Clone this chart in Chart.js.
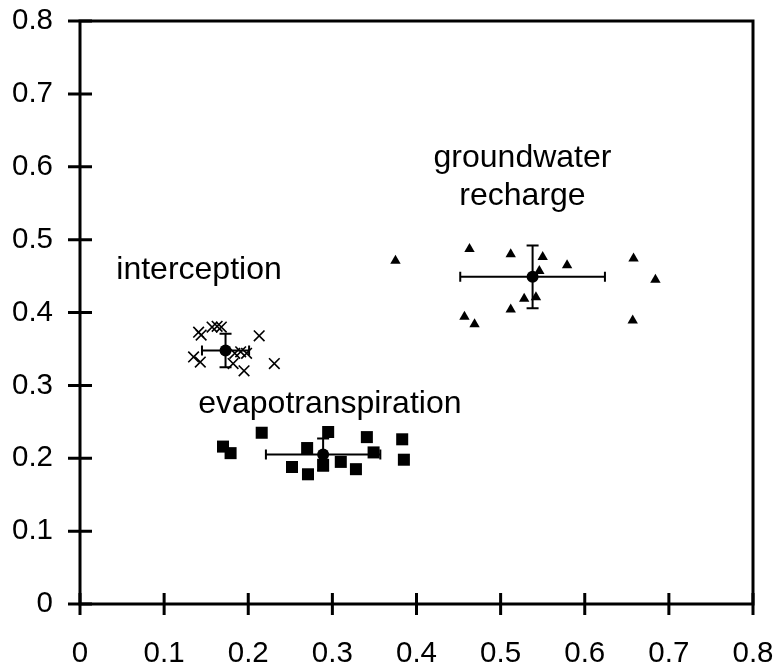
<!DOCTYPE html>
<html>
<head>
<meta charset="utf-8">
<script src="https://cdn.jsdelivr.net/npm/chart.js@4.4.1/dist/chart.umd.min.js"></script>
<style>
  html, body { margin: 0; padding: 0; background: #ffffff; }
  #wrap { width: 778px; height: 668px; }
</style>
</head>
<body>
<div id="wrap"><canvas id="c" width="778" height="668"></canvas></div>
<script>
// ---- data ----
const tickValues = [0, 0.1, 0.2, 0.3, 0.4, 0.5, 0.6, 0.7, 0.8];
const tickLabels = ['0', '0.1', '0.2', '0.3', '0.4', '0.5', '0.6', '0.7', '0.8'];

const interceptionX = [0.141, 0.144, 0.157, 0.163, 0.168, 0.135, 0.143, 0.184, 0.191, 0.198, 0.182, 0.195, 0.213, 0.231];
const interceptionY = [0.373, 0.369, 0.380, 0.381, 0.380, 0.339, 0.332, 0.344, 0.346, 0.344, 0.330, 0.320, 0.368, 0.330];

const evapoX = [0.170, 0.179, 0.216, 0.252, 0.271, 0.270, 0.295, 0.289, 0.310, 0.328, 0.341, 0.349, 0.383, 0.385];
const evapoY = [0.216, 0.207, 0.235, 0.188, 0.178, 0.214, 0.236, 0.191, 0.195, 0.185, 0.229, 0.208, 0.226, 0.198];

const rechargeX = [0.375, 0.463, 0.512, 0.550, 0.579, 0.546, 0.528, 0.542, 0.512, 0.457, 0.469, 0.658, 0.684, 0.657];
const rechargeY = [0.471, 0.487, 0.480, 0.476, 0.465, 0.457, 0.419, 0.421, 0.404, 0.394, 0.384, 0.474, 0.445, 0.389];

const groupNames = ['interception', 'evapotranspiration', 'groundwater recharge'];
const meanX = [0.173, 0.289, 0.538];
const meanY = [0.348, 0.205, 0.449];
const errX  = [0.028, 0.068, 0.086];
const errY  = [0.023, 0.022, 0.043];

// annotation text and anchors (data units)
const labelLines = [['interception'], ['evapotranspiration'], ['groundwater', 'recharge']];
const labelAtX = [0.1415, 0.297, 0.526];
const labelAtY = [0.458, 0.274, 0.612];

// ---- build ----
const toPts = (xs, ys) => xs.map((x, i) => ({ x: x, y: ys[i] }));

const FONT = '"Liberation Sans", Arial, sans-serif';

const frameAndTicks = {
  id: 'frameAndTicks',
  afterDraw(chart) {
    const ctx = chart.ctx, a = chart.chartArea;
    const xs = chart.scales.x, ys = chart.scales.y;
    ctx.save();
    ctx.strokeStyle = '#000';
    ctx.lineWidth = 3;
    ctx.lineCap = 'butt';
    ctx.strokeRect(a.left, a.top, a.right - a.left, a.bottom - a.top);
    ctx.beginPath();
    xs.ticks.forEach(t => {
      const px = xs.getPixelForValue(t.value);
      ctx.moveTo(px, a.bottom - 11); ctx.lineTo(px, a.bottom + 11);
    });
    ys.ticks.forEach(t => {
      const py = ys.getPixelForValue(t.value);
      ctx.moveTo(a.left - 12, py); ctx.lineTo(a.left + 12, py);
    });
    ctx.stroke();

    // tick labels
    ctx.fillStyle = '#000';
    ctx.font = '29.5px ' + FONT;
    ctx.textAlign = 'center';
    ctx.textBaseline = 'alphabetic';
    tickValues.forEach((v, i) => {
      ctx.fillText(tickLabels[i], xs.getPixelForValue(v), a.bottom + 58);
    });
    ctx.textAlign = 'right';
    ctx.textBaseline = 'middle';
    tickValues.forEach((v, i) => {
      ctx.fillText(tickLabels[i], a.left - 27, ys.getPixelForValue(v));
    });
    ctx.restore();
  }
};

const errorBars = {
  id: 'errorBars',
  beforeDatasetsDraw(chart) {
    const ctx = chart.ctx, xs = chart.scales.x, ys = chart.scales.y;
    ctx.save();
    ctx.strokeStyle = '#000';
    ctx.lineWidth = 2;
    const cap = 5;
    meanX.forEach((mx, i) => {
      const cx = xs.getPixelForValue(mx), cy = ys.getPixelForValue(meanY[i]);
      const x1 = xs.getPixelForValue(mx - errX[i]), x2 = xs.getPixelForValue(mx + errX[i]);
      const y1 = ys.getPixelForValue(meanY[i] + errY[i]), y2 = ys.getPixelForValue(meanY[i] - errY[i]);
      ctx.beginPath();
      ctx.moveTo(x1, cy); ctx.lineTo(x2, cy);
      ctx.moveTo(x1, cy - cap); ctx.lineTo(x1, cy + cap);
      ctx.moveTo(x2, cy - cap); ctx.lineTo(x2, cy + cap);
      ctx.moveTo(cx, y1); ctx.lineTo(cx, y2);
      ctx.moveTo(cx - cap - 1, y1); ctx.lineTo(cx + cap + 1, y1);
      ctx.moveTo(cx - cap - 1, y2); ctx.lineTo(cx + cap + 1, y2);
      ctx.stroke();
    });
    ctx.restore();
  }
};

const textLabels = {
  id: 'textLabels',
  afterDraw(chart) {
    const ctx = chart.ctx, xs = chart.scales.x, ys = chart.scales.y;
    ctx.save();
    ctx.fillStyle = '#000';
    ctx.font = '32px ' + FONT;
    ctx.textAlign = 'center';
    ctx.textBaseline = 'middle';
    labelLines.forEach((lines, i) => {
      const px = xs.getPixelForValue(labelAtX[i]);
      const py = ys.getPixelForValue(labelAtY[i]);
      lines.forEach((ln, k) => ctx.fillText(ln, px, py + k * 38));
    });
    ctx.restore();
  }
};

new Chart(document.getElementById('c'), {
  type: 'scatter',
  data: {
    datasets: [
      { label: groupNames[0], data: toPts(interceptionX, interceptionY),
        pointStyle: 'crossRot', pointRadius: 7.5, borderColor: '#000', borderWidth: 1.6, backgroundColor: '#000' },
      { label: groupNames[1], data: toPts(evapoX, evapoY),
        pointStyle: 'rect', pointRadius: 8.5, borderColor: '#000', borderWidth: 0, backgroundColor: '#000' },
      { label: groupNames[2], data: toPts(rechargeX, rechargeY),
        pointStyle: 'triangle', pointRadius: 6, borderColor: '#000', borderWidth: 0, backgroundColor: '#000' },
      { label: 'mean', data: toPts(meanX, meanY),
        pointStyle: 'circle', pointRadius: 6, borderColor: '#000', borderWidth: 0, backgroundColor: '#000' }
    ]
  },
  options: {
    responsive: false,
    animation: false,
    devicePixelRatio: 1,
    layout: { padding: { top: 21, right: 25, left: 0, bottom: 0 } },
    plugins: { legend: { display: false }, tooltip: { enabled: false } },
    scales: {
      x: {
        type: 'linear', min: 0, max: 0.8,
        afterBuildTicks(s) { s.ticks = tickValues.map(v => ({ value: v })); },
        afterFit(s) { s.height = 64; },
        grid: { display: false },
        border: { display: false },
        ticks: { display: false }
      },
      y: {
        type: 'linear', min: 0, max: 0.8,
        afterBuildTicks(s) { s.ticks = tickValues.map(v => ({ value: v })); },
        afterFit(s) { s.width = 80; },
        grid: { display: false },
        border: { display: false },
        ticks: { display: false }
      }
    }
  },
  plugins: [errorBars, frameAndTicks, textLabels]
});
</script>
</body>
</html>
